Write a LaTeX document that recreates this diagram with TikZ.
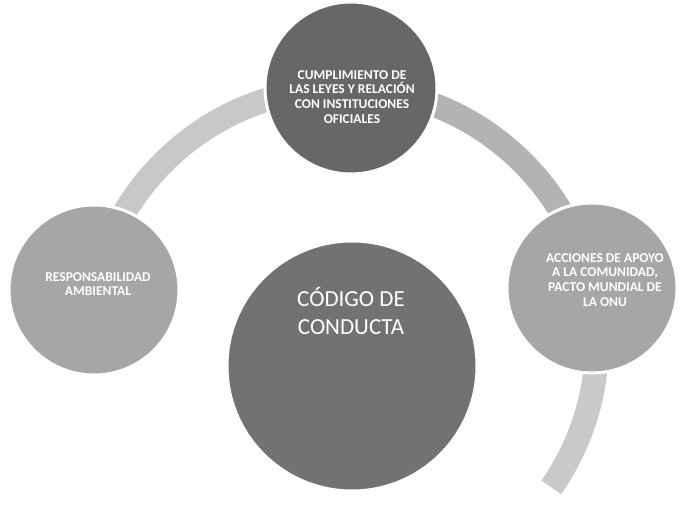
\documentclass[tikz,border=0pt]{standalone}
\usepackage{fontspec}
\setmainfont{Carlito}
\definecolor{cdark}{HTML}{676767}
\definecolor{ccenter}{HTML}{727272}
\definecolor{cside}{HTML}{A6A6A6}
\definecolor{arcA}{HTML}{C8C8C8}
\definecolor{arcB}{HTML}{B3B3B3}
\definecolor{arcC}{HTML}{C9C9C9}
\begin{document}
\begin{tikzpicture}[x=1pt,y=1pt,
  ring/.style={line width=24pt},
  bub/.style={circle, draw=white, line width=3pt, inner sep=0pt},
  smalltxt/.style={text=white, font=\fontsize{13.5}{14.8}\selectfont\bfseries, align=center, inner sep=0pt},
  bigtxt/.style={text=white, font=\fontsize{23}{28}\selectfont, align=center, inner sep=0pt}]
\fill[white] (0,0) rectangle (680,521);
\useasboundingbox (0,0) rectangle (680,521);
\coordinate (ac) at (343,179);
% ring segments
\draw[ring, arcA] (ac) ++(168.2:254) arc[start angle=168.2, end angle=88.2, radius=254];
\draw[ring, arcB] (ac) ++(88.2:254) arc[start angle=88.2, end angle=12.2, radius=254];
\draw[ring, arcC] (ac) ++(12.2:254) arc[start angle=12.2, end angle=-34.9, radius=254];
% circles
\node[bub, fill=cdark, minimum size=172pt] (top) at (351,433) {};
\node[bub, fill=cside, minimum size=170pt] (left) at (94,231) {};
\node[bub, fill=cside, minimum size=170pt] (right) at (592,233) {};
\node[bub, fill=ccenter, minimum size=250pt] (center) at (352,155) {};
% texts
\node[smalltxt] (ttop) at (352,424) {CUMPLIMIENTO DE\\LAS LEYES Y RELACIÓN\\CON INSTITUCIONES\\OFICIALES};
\node[smalltxt] (tleft) at (98,237) {RESPONSABILIDAD\\AMBIENTAL};
\node[smalltxt] (tright) at (605,241) {ACCIONES DE APOYO\\A LA COMUNIDAD,\\PACTO MUNDIAL DE\\LA ONU};
\node[bigtxt] (tcenter) at (351,210) {CÓDIGO DE\\CONDUCTA};
\end{tikzpicture}
\end{document}
